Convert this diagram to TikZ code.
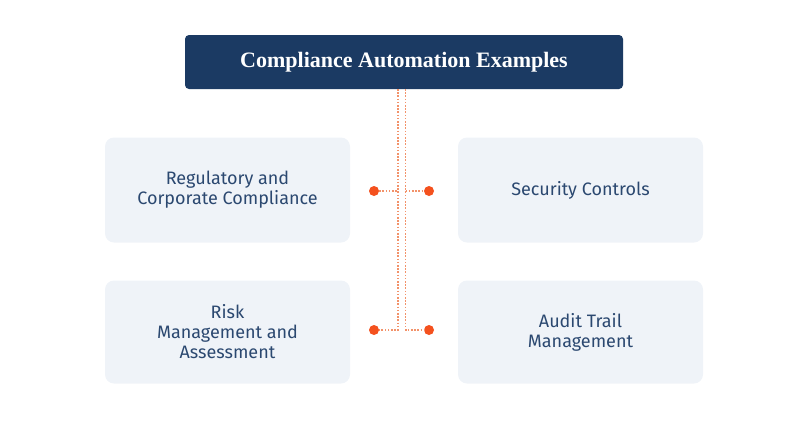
\documentclass[tikz,border=0pt]{standalone}
\usepackage{fontspec}
\setmainfont{Liberation Serif}
\setsansfont{Fira Sans}
\usetikzlibrary{positioning}
\definecolor{navy}{HTML}{1B3A63}
\definecolor{textnavy}{HTML}{2B4870}
\definecolor{boxfill}{HTML}{EFF3F8}
\definecolor{dotorange}{HTML}{F4511E}
\definecolor{lineorange}{HTML}{F2926A}
\begin{document}
\begin{tikzpicture}[x=1pt,y=-1pt,
  titlebox/.style={fill=navy,rounded corners=4pt,minimum width=438pt,minimum height=54pt,text=white,font=\fontsize{22}{26}\selectfont\bfseries},
  itembox/.style={fill=boxfill,rounded corners=9pt,minimum width=245pt,minimum height=104pt,text=textnavy,align=center,font=\sffamily\fontsize{18}{20}\selectfont},
  dot/.style={circle,fill=dotorange,inner sep=0pt,minimum size=10pt},
  link/.style={lineorange,line width=1.3pt,dash pattern=on 1.6pt off 1.6pt}]
  \useasboundingbox (0,0) rectangle (800,421);
  \node[titlebox] (title) at (404,62) {Compliance Automation Examples};
  \node[itembox,minimum height=105pt] (reg) at (227.5,190) {Regulatory and\\Corporate Compliance};
  \node[itembox,minimum height=105pt] (sec) at (580.5,190) {Security Controls};
  \node[itembox,minimum height=103pt] (risk) at (227.5,332) {Risk\\Management and\\Assessment};
  \node[itembox,minimum height=103pt] (audit) at (580.5,332) {Audit Trail\\Management};

  \node[dot] (dreg) at (374,191) {};
  \node[dot] (dsec) at (429,191) {};
  \node[dot] (drisk) at (374,330) {};
  \node[dot] (daudit) at (429,330) {};
  \coordinate (topL) at (398,89);
  \coordinate (topR) at (405.5,89);

  \draw[link] (topL) -- (topL |- drisk) -- (drisk);
  \draw[link] (topR) -- (topR |- daudit) -- (daudit);
  \draw[link] (dreg) -- (topL |- dreg);
  \draw[link] (topR |- dsec) -- (dsec);
\end{tikzpicture}
\end{document}
